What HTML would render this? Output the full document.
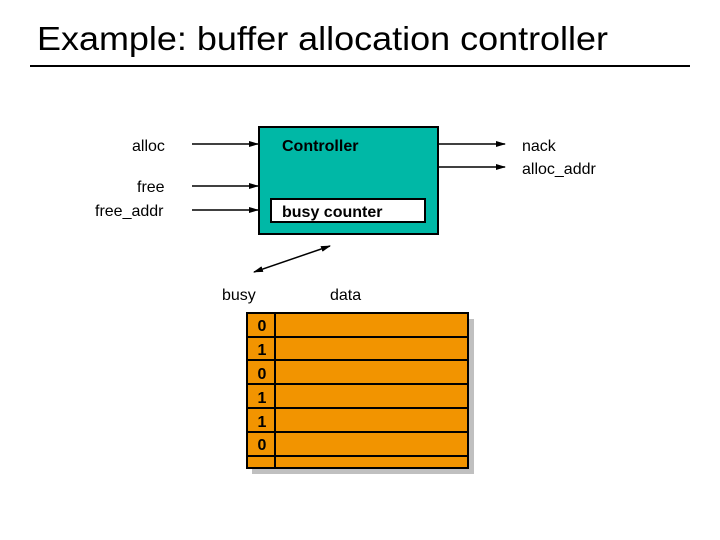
<!DOCTYPE html>
<html><head><meta charset="utf-8"><style>body{margin:0;background:#fff}svg{display:block}</style></head><body>
<svg width="720" height="540" viewBox="0 0 720 540" xmlns="http://www.w3.org/2000/svg" font-family="Liberation Sans, Arial, sans-serif">
<defs><marker id="a" markerWidth="10" markerHeight="8" refX="9" refY="4" orient="auto" markerUnits="userSpaceOnUse"><path d="M0,1 L10,4 L0,7 z" fill="#000"/></marker>
<marker id="b" markerWidth="10" markerHeight="8" refX="1" refY="4" orient="auto" markerUnits="userSpaceOnUse"><path d="M10,1 L0,4 L10,7 z" fill="#000"/></marker></defs>
<text x="37" y="50" font-size="33" textLength="571" lengthAdjust="spacingAndGlyphs">Example: buffer allocation controller</text>
<line x1="30" y1="66" x2="690" y2="66" stroke="#000" stroke-width="2"/>
<rect x="259" y="127" width="179" height="107" fill="#00b8a6" stroke="#000" stroke-width="2"/>
<text x="282" y="151" font-size="16" font-weight="bold">Controller</text>
<rect x="271" y="199" width="154" height="23" fill="#fff" stroke="#000" stroke-width="2"/>
<text x="282" y="217" font-size="16" font-weight="bold">busy counter</text>
<g stroke="#000" stroke-width="1.5">
<line x1="192" y1="144" x2="258" y2="144" marker-end="url(#a)"/>
<line x1="192" y1="186" x2="258" y2="186" marker-end="url(#a)"/>
<line x1="192" y1="210" x2="258" y2="210" marker-end="url(#a)"/>
<line x1="438" y1="144" x2="505" y2="144" marker-end="url(#a)"/>
<line x1="438" y1="167" x2="505" y2="167" marker-end="url(#a)"/>
<line x1="254" y1="272" x2="330" y2="246" marker-start="url(#b)" marker-end="url(#a)"/>
</g>
<g font-size="16">
<text x="132" y="151">alloc</text>
<text x="137" y="192">free</text>
<text x="95" y="216">free_addr</text>
<text x="522" y="151">nack</text>
<text x="522" y="174">alloc_addr</text>
<text x="222" y="300">busy</text>
<text x="330" y="300">data</text>
</g>
<rect x="252" y="319" width="222" height="155" fill="#c0c0c0"/>
<rect x="247" y="313" width="221" height="155" fill="#f29400" stroke="#000" stroke-width="2"/>
<g stroke="#000" stroke-width="2">
<line x1="275" y1="313" x2="275" y2="468"/>
<line x1="247" y1="337" x2="468" y2="337"/>
<line x1="247" y1="360" x2="468" y2="360"/>
<line x1="247" y1="384" x2="468" y2="384"/>
<line x1="247" y1="408" x2="468" y2="408"/>
<line x1="247" y1="432" x2="468" y2="432"/>
<line x1="247" y1="456" x2="468" y2="456"/>
</g>
<g font-size="16" font-weight="bold" text-anchor="middle">
<text x="262" y="331">0</text>
<text x="262" y="355">1</text>
<text x="262" y="379">0</text>
<text x="262" y="403">1</text>
<text x="262" y="427">1</text>
<text x="262" y="450">0</text>
</g>
</svg>
</body></html>
